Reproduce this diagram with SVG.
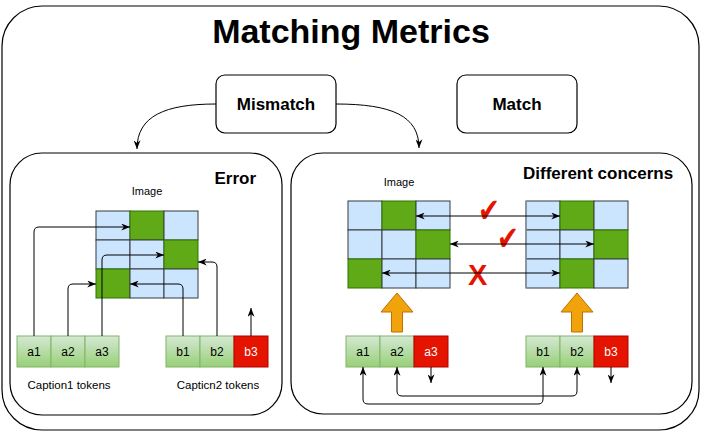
<svg xmlns="http://www.w3.org/2000/svg" width="703" height="433" viewBox="0 0 703 433">
<style>
text{font-family:"Liberation Sans",Arial,sans-serif;fill:#000}
.b{font-weight:bold}
.frame{fill:#fff;stroke:#000;stroke-width:1.2}
.blue{fill:#cce5ff;stroke:#36393d;stroke-width:1}
.green{fill:#60a917;stroke:#2d7600;stroke-width:1}
.tok{fill:url(#tg);stroke:#82b366;stroke-width:1}
.red{fill:#e51400;stroke:#b20000;stroke-width:1}
.tt{font-size:12px;text-anchor:middle}
.wt{fill:#fff}
.edge{fill:none;stroke:#000;stroke-width:1}
.ar{marker-end:url(#ah)}
.dbl{marker-start:url(#ah);marker-end:url(#ah)}
.orange{fill:#f0a30a;stroke:#bd7000;stroke-width:1}
.mark{font-family:"DejaVu Sans",sans-serif;fill:#e51400}
</style>
<defs>
<linearGradient id="tg" x1="0" y1="0" x2="0" y2="1">
<stop offset="0" stop-color="#d5e8d4"/>
<stop offset="1" stop-color="#97d077"/>
</linearGradient>
<marker id="ah" viewBox="0 0 10 8" refX="10" refY="4" markerWidth="9" markerHeight="7" markerUnits="userSpaceOnUse" orient="auto-start-reverse">
<path d="M0,0 L10,4 L0,8 L3,4 z" fill="#000"/>
</marker>
</defs>
<rect width="703" height="433" fill="#fff"/>

<g id="outer">
<rect class="frame" x="2" y="6" width="697" height="424" rx="40" ry="40"/>
<text class="b" x="351" y="43" font-size="34" text-anchor="middle">Matching Metrics</text>
</g>

<g id="mismatch">
<rect class="frame" x="216" y="75" width="120" height="58" rx="9"/>
<text class="b" x="276" y="110" font-size="17" text-anchor="middle">Mismatch</text>
</g>
<g id="match">
<rect class="frame" x="457" y="75" width="120" height="58" rx="9"/>
<text class="b" x="517" y="110" font-size="17" text-anchor="middle">Match</text>
</g>

<g id="error-panel">
<rect class="frame" x="10" y="153" width="272" height="262" rx="32"/>
<text class="b" x="256" y="184" font-size="17" text-anchor="end">Error</text>
<text x="147" y="195" font-size="11" text-anchor="middle">Image</text>
</g>

<g id="error-image">
<rect class="blue" x="96" y="211" width="34" height="29"/>
<rect class="green" x="130" y="211" width="34" height="29"/>
<rect class="blue" x="164" y="211" width="34" height="29"/>
<rect class="blue" x="96" y="240" width="34" height="29"/>
<rect class="blue" x="130" y="240" width="34" height="29"/>
<rect class="green" x="164" y="240" width="34" height="29"/>
<rect class="green" x="96" y="269" width="34" height="29"/>
<rect class="blue" x="130" y="269" width="34" height="29"/>
<rect class="blue" x="164" y="269" width="34" height="29"/>
</g>

<g id="caption1-tokens">
<rect class="tok" x="17" y="336" width="34" height="31"/>
<rect class="tok" x="51" y="336" width="34" height="31"/>
<rect class="tok" x="85" y="336" width="34" height="31"/>
<text class="tt" x="34" y="356">a1</text>
<text class="tt" x="68" y="356">a2</text>
<text class="tt" x="102" y="356">a3</text>
<text x="69" y="389" font-size="11.5" text-anchor="middle">Caption1 tokens</text>
</g>

<g id="caption2-tokens">
<rect class="tok" x="166" y="336" width="34" height="31"/>
<rect class="tok" x="200" y="336" width="34" height="31"/>
<rect class="red" x="234" y="336" width="34" height="31"/>
<text class="tt" x="183" y="356">b1</text>
<text class="tt" x="217" y="356">b2</text>
<text class="tt wt" x="251" y="356">b3</text>
<text x="218" y="389" font-size="11.5" text-anchor="middle">Capticn2 tokens</text>
</g>

<g id="concerns-panel">
<rect class="frame" x="291" y="153" width="401" height="261" rx="32"/>
<text class="b" x="523" y="179" font-size="17">Different concerns</text>
<text x="399" y="186" font-size="11" text-anchor="middle">Image</text>
</g>

<g id="image-a">
<rect class="blue" x="348" y="201" width="34" height="29"/>
<rect class="green" x="382" y="201" width="34" height="29"/>
<rect class="blue" x="416" y="201" width="34" height="29"/>
<rect class="blue" x="348" y="230" width="34" height="29"/>
<rect class="blue" x="382" y="230" width="34" height="29"/>
<rect class="green" x="416" y="230" width="34" height="29"/>
<rect class="green" x="348" y="259" width="34" height="29"/>
<rect class="blue" x="382" y="259" width="34" height="29"/>
<rect class="blue" x="416" y="259" width="34" height="29"/>
</g>

<g id="image-b">
<rect class="blue" x="526" y="201" width="34" height="29"/>
<rect class="green" x="560" y="201" width="34" height="29"/>
<rect class="blue" x="594" y="201" width="34" height="29"/>
<rect class="blue" x="526" y="230" width="34" height="29"/>
<rect class="blue" x="560" y="230" width="34" height="29"/>
<rect class="green" x="594" y="230" width="34" height="29"/>
<rect class="blue" x="526" y="259" width="34" height="29"/>
<rect class="green" x="560" y="259" width="34" height="29"/>
<rect class="blue" x="594" y="259" width="34" height="29"/>
<line x1="526" y1="201" x2="526" y2="288" stroke="#8a96a3" stroke-width="1.5"/>
</g>

<g id="tokens-a">
<rect class="tok" x="346" y="336" width="34" height="31"/>
<rect class="tok" x="380" y="336" width="34" height="31"/>
<rect class="red" x="414" y="336" width="34" height="31"/>
<text class="tt" x="363" y="356">a1</text>
<text class="tt" x="397" y="356">a2</text>
<text class="tt wt" x="431" y="356">a3</text>
</g>

<g id="tokens-b">
<rect class="tok" x="526" y="336" width="34" height="31"/>
<rect class="tok" x="560" y="336" width="34" height="31"/>
<rect class="red" x="594" y="336" width="34" height="31"/>
<text class="tt" x="543" y="356">b1</text>
<text class="tt" x="577" y="356">b2</text>
<text class="tt wt" x="611" y="356">b3</text>
</g>

<g id="encode-arrows">
<path class="orange" d="M397,293 L413,312 L402.5,312 L402.5,332 L391.5,332 L391.5,312 L381,312 Z"/>
<path class="orange" d="M577,293 L593,312 L582.5,312 L582.5,332 L571.5,332 L571.5,312 L561,312 Z"/>
</g>

<g id="marks">
<text class="mark" x="0" y="0" font-size="26" transform="translate(478,222) scale(1,1.3)">✔</text>
<text class="mark" x="0" y="0" font-size="26" transform="translate(497,250) scale(1,1.3)">✔</text>
<text class="b" x="468" y="285" font-size="29" fill="#e51400" style="fill:#e51400">X</text>
</g>

<g id="connectors">
<path class="edge ar" d="M216,104 C165,104 137,116 137,149"/>
<path class="edge ar" d="M336,104 C392,104 419,116 419,148"/>
<path class="edge ar" d="M34,336 V232 Q34,227 39,227 H130"/>
<path class="edge ar" d="M68,336 V289 Q68,284 73,284 H96"/>
<path class="edge ar" d="M102,336 V260 Q102,255 107,255 H164"/>
<path class="edge ar" d="M183,336 V289 Q183,284 178,284 H130"/>
<path class="edge ar" d="M217,336 V267 Q217,262 212,262 H198"/>
<path class="edge ar" d="M251,336 V308"/>
<path class="edge dbl" d="M416,216 H560"/>
<path class="edge dbl" d="M450,244 H594"/>
<path class="edge dbl" d="M382,273 H560"/>
<path class="edge dbl" d="M363,367 V399 Q363,404 368,404 H538 Q543,404 543,399 V367"/>
<path class="edge dbl" d="M397,367 V391 Q397,396 402,396 H572 Q577,396 577,391 V367"/>
<path class="edge ar" d="M431,367 V383"/>
<path class="edge ar" d="M611,367 V383"/>
</g>
</svg>
